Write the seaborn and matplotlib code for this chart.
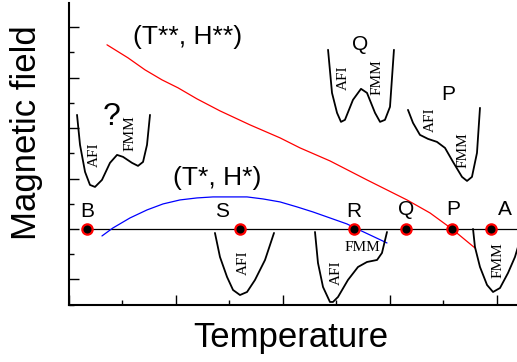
import matplotlib
matplotlib.use("Agg")
import matplotlib.pyplot as plt
import seaborn as sns
import numpy as np
from matplotlib.ticker import MultipleLocator

# points on the horizontal line
point_names = ["B", "S", "R", "Q", "P", "A"]
point_x = [0.171, 1.598, 2.664, 3.150, 3.579, 3.944]
point_y = [0, 0, 0, 0, 0, 0]
label_x = [0.17, 1.43, 2.66, 3.15, 3.59, 4.07]
label_y = [0.34, 0.34, 0.34, 0.38, 0.38, 0.38]

# (T**, H**) line, red
red_x = [0.355, 0.551, 0.710, 0.869, 1.019, 1.196, 1.411, 1.692, 1.972, 2.159,
         2.439, 2.785, 3.159, 3.374, 3.579, 3.794]
red_y = [3.651, 3.393, 3.155, 2.956, 2.798, 2.579, 2.341, 2.063, 1.806, 1.607,
         1.349, 0.972, 0.575, 0.317, 0.0, -0.377]

# (T*, H*) line, blue
blue_x = [0.308, 0.411, 0.570, 0.729, 0.879, 1.037, 1.196, 1.346, 1.505, 1.664,
          1.813, 1.972, 2.131, 2.280, 2.439, 2.598, 2.673, 2.813, 2.972]
blue_y = [-0.139, 0.020, 0.218, 0.377, 0.496, 0.575, 0.615, 0.635, 0.635, 0.635,
          0.595, 0.536, 0.437, 0.337, 0.218, 0.099, 0.020, -0.119, -0.278]

# free energy sketches
well_q_x = [0.075, 0.103, 0.150, 0.196, 0.243, 0.308, 0.383, 0.449, 0.505, 0.589, 0.645, 0.692, 0.729, 0.757]
well_q_y = [2.262, 1.667, 1.131, 0.873, 0.833, 0.972, 1.310, 1.468, 1.429, 1.310, 1.250, 1.329, 1.667, 2.262]

wellQ_x = [2.421, 2.458, 2.505, 2.542, 2.579, 2.654, 2.729, 2.785, 2.860, 2.907, 2.953, 3.000, 3.037]
wellQ_y = [3.552, 2.698, 2.302, 2.123, 2.163, 2.560, 2.778, 2.698, 2.302, 2.123, 2.163, 2.421, 3.552]

wellP_x = [3.168, 3.215, 3.280, 3.355, 3.439, 3.514, 3.589, 3.673, 3.720, 3.766, 3.813, 3.841]
wellP_y = [2.361, 2.103, 1.865, 1.786, 1.726, 1.607, 1.329, 1.032, 0.952, 1.032, 1.508, 2.401]

wellS_x = [1.364, 1.411, 1.477, 1.533, 1.598, 1.664, 1.738, 1.832, 1.916]
wellS_y = [-0.079, -0.556, -0.952, -1.210, -1.310, -1.250, -1.012, -0.615, -0.079]

wellR_x = [2.299, 2.327, 2.374, 2.439, 2.467, 2.514, 2.607, 2.701, 2.785, 2.879, 2.925, 2.972]
wellR_y = [-0.060, -0.675, -1.151, -1.448, -1.448, -1.349, -1.012, -0.754, -0.655, -0.615, -0.476, -0.060]

wellA_x = [3.776, 3.794, 3.841, 3.907, 3.963, 4.028, 4.103, 4.168, 4.196]
wellA_y = [0.0, -0.357, -0.754, -1.111, -1.250, -1.171, -0.873, -0.556, -0.357]

# phase labels inside the sketches: (text, x, y, rotation)
phase_labels = [("AFI", 0.234, 1.468, 90), ("FMM", 0.570, 1.905, 90),
                ("AFI", 2.561, 2.996, 90), ("FMM", 2.879, 3.016, 90),
                ("AFI", 3.374, 2.163, 90), ("FMM", 3.682, 1.567, 90),
                ("AFI", 1.626, -0.675, 90),
                ("AFI", 2.495, -0.873, 90), ("FMM", 2.738, -0.377, 0),
                ("FMM", 4.009, -0.615, 90)]

sns.set_style("ticks")
plt.rcParams['font.family'] = ['Liberation Sans', 'DejaVu Sans']
plt.rcParams['text.color'] = 'black'
plt.rcParams['axes.edgecolor'] = 'black'
plt.rcParams['axes.labelcolor'] = 'black'
plt.rcParams['xtick.color'] = 'black'
plt.rcParams['ytick.color'] = 'black'

fig = plt.figure(figsize=(5.17, 3.62), dpi=100)
ax = fig.add_axes([69/517, 57/362, 448/517, 302/362])

# horizontal line H = 0
sns.lineplot(x=[point_x[0], 4.3], y=[0, 0], color="black", linewidth=0.9, ax=ax)

sns.lineplot(x=red_x, y=red_y, sort=False, estimator=None, color="red", linewidth=0.9, ax=ax)
sns.lineplot(x=blue_x, y=blue_y, sort=False, estimator=None, color="blue", linewidth=0.9, ax=ax)

for wx, wy in [(well_q_x, well_q_y), (wellQ_x, wellQ_y), (wellP_x, wellP_y),
               (wellS_x, wellS_y), (wellR_x, wellR_y), (wellA_x, wellA_y)]:
    sns.lineplot(x=wx, y=wy, sort=False, estimator=None, color="black", linewidth=1.3,
                 solid_joinstyle="round", ax=ax)

sns.scatterplot(x=point_x, y=point_y, s=55, color="black", edgecolor="red", linewidth=1.6, zorder=5, ax=ax)

for name, lx, ly in zip(point_names, label_x, label_y):
    ax.text(lx, ly, name, fontsize=15, ha="center", va="center")

ax.text(1.112, 3.81, "(T**, H**)", fontsize=19, ha="center", va="center")
ax.text(1.383, 1.012, "(T*, H*)", fontsize=19, ha="center", va="center")
ax.text(2.720, 3.651, "Q", fontsize=15, ha="center", va="center")
ax.text(3.542, 2.659, "P", fontsize=15, ha="center", va="center")
ax.text(0.402, 2.222, "?", fontsize=23, ha="center", va="center")

for txt, tx, ty, rot in phase_labels:
    ax.text(tx, ty, txt, fontsize=11, family="Liberation Serif", rotation=rot, ha="center", va="center")

ax.set_xlim(0, 4.187)
ax.set_ylim(-1.508, 4.48)
ax.xaxis.set_major_locator(MultipleLocator(1))
ax.xaxis.set_minor_locator(MultipleLocator(0.5))
ax.yaxis.set_major_locator(MultipleLocator(1))
ax.yaxis.set_minor_locator(MultipleLocator(0.5))
ax.tick_params(which="both", direction="in", labelbottom=False, labelleft=False, width=1)
ax.tick_params(which="major", length=7)
ax.tick_params(which="minor", length=3.5)
for s in ["top", "right"]:
    ax.spines[s].set_visible(False)
for s in ["left", "bottom"]:
    ax.spines[s].set_linewidth(1.5)

ax.set_xlabel("Temperature", fontsize=25, va="center")
ax.xaxis.set_label_coords(0.496, -0.106)
ax.set_ylabel("Magnetic field", fontsize=25, va="center")
ax.yaxis.set_label_coords(-0.094, 0.57)

plt.savefig("out.png", dpi=100)
